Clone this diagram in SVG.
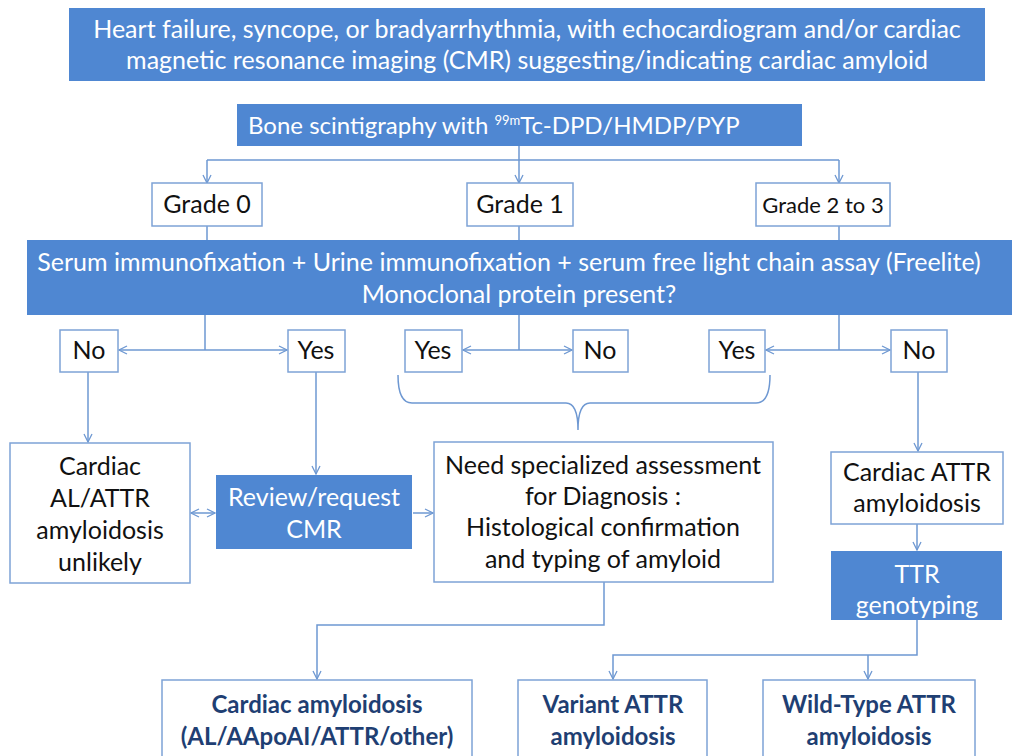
<svg xmlns="http://www.w3.org/2000/svg" width="1012" height="756" viewBox="0 0 1012 756">
<style>
.fill{fill:#4f87d2;}
.wbox{fill:#ffffff;stroke:#7ea3d6;stroke-width:1.5;}
.wt{fill:#ffffff;font-family:"Lato","Liberation Sans",sans-serif;font-size:25px;text-anchor:middle;}
.bt{fill:#111111;font-family:"Lato","Liberation Sans",sans-serif;font-size:25px;text-anchor:middle;}
.dt{fill:#1f3f73;font-family:"Lato","Liberation Sans",sans-serif;font-size:24px;font-weight:bold;text-anchor:middle;}
.ln{fill:none;stroke:#6e98d2;stroke-width:1.5;}
</style>
<defs>
<marker id="ah" viewBox="0 0 10 10" refX="9" refY="5" markerWidth="10" markerHeight="10" markerUnits="userSpaceOnUse" orient="auto-start-reverse">
<path d="M1,1 L9,5 L1,9" fill="none" stroke="#6e98d2" stroke-width="1.3"/>
</marker>
</defs>
<rect width="1012" height="756" fill="#ffffff"/>

<g id="connectors">
<path class="ln" d="M519,146 V160 M207,160 H839" />
<path class="ln" d="M207,160 V183" marker-end="url(#ah)"/>
<path class="ln" d="M519,160 V183" marker-end="url(#ah)"/>
<path class="ln" d="M839,160 V183" marker-end="url(#ah)"/>
<path class="ln" d="M207,226 V240 M519,226 V240 M839,226 V240"/>
<path class="ln" d="M205,315 V350 M519,315 V350 M839,315 V350"/>
<path class="ln" d="M119,350 H287" marker-start="url(#ah)" marker-end="url(#ah)"/>
<path class="ln" d="M463,350 H572" marker-start="url(#ah)" marker-end="url(#ah)"/>
<path class="ln" d="M766,350 H890" marker-start="url(#ah)" marker-end="url(#ah)"/>
<path class="ln" d="M398,375 Q398,403 412,403 L566,403 Q578,403 578,430 Q578,403 590,403 L756,403 Q770,403 770,375"/>
<path class="ln" d="M88,372 V442" marker-end="url(#ah)"/>
<path class="ln" d="M316,372 V474" marker-end="url(#ah)"/>
<path class="ln" d="M918,372 V451" marker-end="url(#ah)"/>
<path class="ln" d="M191,513 H215" marker-start="url(#ah)" marker-end="url(#ah)"/>
<path class="ln" d="M413,513 H433" marker-end="url(#ah)"/>
<path class="ln" d="M917,524 V550" marker-end="url(#ah)"/>
<path class="ln" d="M604,582 V625 H317 V679" marker-end="url(#ah)"/>
<path class="ln" d="M917,620 V655 H613 V679" marker-end="url(#ah)"/>
<path class="ln" d="M868,655 V679" marker-end="url(#ah)"/>
</g>

<g id="n-top">
<rect class="fill" x="69" y="8" width="916" height="73"/>
<text class="wt" x="527" y="38">Heart failure, syncope, or bradyarrhythmia, with echocardiogram and/or cardiac</text>
<text class="wt" x="527" y="69">magnetic resonance imaging (CMR) suggesting/indicating cardiac amyloid</text>
</g>

<g id="n-bone">
<rect class="fill" x="237" y="104" width="565" height="42"/>
<text class="wt" x="248" y="134" style="text-anchor:start;font-size:24px">Bone scintigraphy with <tspan font-size="13" dy="-9">99m</tspan><tspan dy="9">Tc-DPD/HMDP/PYP</tspan></text>
</g>

<g id="n-grade0">
<rect class="wbox" x="152" y="183" width="110" height="43"/>
<text class="bt" x="207" y="213">Grade 0</text>
</g>
<g id="n-grade1">
<rect class="wbox" x="467" y="183" width="106" height="43"/>
<text class="bt" x="520" y="213">Grade 1</text>
</g>
<g id="n-grade23">
<rect class="wbox" x="756" y="183" width="134" height="43"/>
<text class="bt" x="823" y="213" style="font-size:22px">Grade 2 to 3</text>
</g>

<g id="n-serum">
<rect class="fill" x="27" y="240" width="985" height="75"/>
<text class="wt" x="509" y="271">Serum immunofixation + Urine immunofixation + serum free light chain assay (Freelite)</text>
<text class="wt" x="519" y="303">Monoclonal protein present?</text>
</g>

<g id="n-no1"><rect class="wbox" x="60" y="330" width="58" height="42"/><text class="bt" x="89" y="359">No</text></g>
<g id="n-yes1"><rect class="wbox" x="288" y="330" width="57" height="42"/><text class="bt" x="316" y="359">Yes</text></g>
<g id="n-yes2"><rect class="wbox" x="405" y="330" width="57" height="42"/><text class="bt" x="433" y="359">Yes</text></g>
<g id="n-no2"><rect class="wbox" x="573" y="330" width="55" height="42"/><text class="bt" x="600" y="359">No</text></g>
<g id="n-yes3"><rect class="wbox" x="709" y="330" width="56" height="42"/><text class="bt" x="737" y="359">Yes</text></g>
<g id="n-no3"><rect class="wbox" x="891" y="330" width="56" height="42"/><text class="bt" x="919" y="359">No</text></g>

<g id="n-unlikely">
<rect class="wbox" x="10" y="443" width="180" height="140"/>
<text class="bt" x="100" y="475">Cardiac</text>
<text class="bt" x="100" y="507">AL/ATTR</text>
<text class="bt" x="100" y="539">amyloidosis</text>
<text class="bt" x="100" y="571">unlikely</text>
</g>

<g id="n-review">
<rect class="fill" x="216" y="475" width="196" height="74"/>
<text class="wt" x="314" y="506">Review/request</text>
<text class="wt" x="314" y="538">CMR</text>
</g>

<g id="n-need">
<rect class="wbox" x="434" y="442" width="339" height="140"/>
<text class="bt" x="603" y="474">Need specialized assessment</text>
<text class="bt" x="603" y="505">for Diagnosis :</text>
<text class="bt" x="603" y="536">Histological confirmation</text>
<text class="bt" x="603" y="568">and typing of amyloid</text>
</g>

<g id="n-cattr">
<rect class="wbox" x="831" y="452" width="172" height="72"/>
<text class="bt" x="917" y="481">Cardiac ATTR</text>
<text class="bt" x="917" y="512">amyloidosis</text>
</g>

<g id="n-ttr">
<rect class="fill" x="831" y="551" width="171" height="69"/>
<text class="wt" x="917" y="583">TTR</text>
<text class="wt" x="917" y="614">genotyping</text>
</g>

<g id="n-ca">
<rect class="wbox" x="162" y="680" width="310" height="82"/>
<text class="dt" x="317" y="713">Cardiac amyloidosis</text>
<text class="dt" x="317" y="745">(AL/AApoAI/ATTR/other)</text>
</g>
<g id="n-variant">
<rect class="wbox" x="518" y="680" width="189" height="82"/>
<text class="dt" x="613" y="713">Variant ATTR</text>
<text class="dt" x="613" y="745">amyloidosis</text>
</g>
<g id="n-wild">
<rect class="wbox" x="763" y="680" width="212" height="82"/>
<text class="dt" x="869" y="713">Wild-Type ATTR</text>
<text class="dt" x="869" y="745">amyloidosis</text>
</g>
</svg>
